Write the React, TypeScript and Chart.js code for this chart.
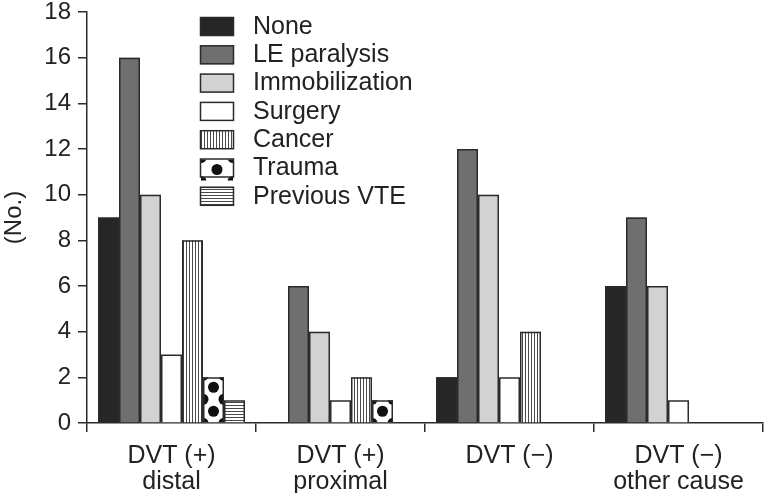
import React, { useEffect, useRef } from "react";
import { Chart, registerables } from "chart.js";

Chart.register(...registerables);

const categories: string[][] = [
  ["DVT (+)", "distal"],
  ["DVT (+)", "proximal"],
  ["DVT (\u2212)"],
  ["DVT (\u2212)", "other cause"],
];
const seriesNames = ["None", "LE paralysis", "Immobilization", "Surgery", "Cancer", "Trauma", "Previous VTE"];
const noneVals = [9, 0, 2, 6];
const leParalysisVals = [16, 6, 12, 9];
const immobilizationVals = [10, 4, 10, 6];
const surgeryVals = [3, 1, 2, 1];
const cancerVals = [8, 2, 4, 0];
const traumaVals = [2, 1, 0, 0];
const previousVteVals = [1, 0, 0, 0];
const yTicks = [0, 2, 4, 6, 8, 10, 12, 14, 16, 18];

const FONT = "'Liberation Sans', Arial, Helvetica, sans-serif";
const EDGE = "#2b2b2b";
const TEXT = "#222222";
const FS = 24;
const FS_BIG = 25;

function makePattern(kind: string): CanvasPattern | string {
  const c = document.createElement("canvas");
  const ctx = c.getContext("2d")!;
  c.width = 3; c.height = 3;
  ctx.fillStyle = "#ffffff"; ctx.fillRect(0, 0, 3, 3);
  ctx.fillStyle = "#4a4a4a";
  if (kind === "vertical") ctx.fillRect(0, 0, 1, 3);
  else ctx.fillRect(0, 0, 3, 1);
  return ctx.createPattern(c, "repeat") || "#fff";
}

function drawDots(ctx: CanvasRenderingContext2D, left: number, right: number, top: number, bottom: number) {
  ctx.save();
  ctx.beginPath();
  ctx.rect(left, top, right - left, bottom - top);
  ctx.clip();
  ctx.fillStyle = "#111111";
  const cx = (left + right) / 2;
  for (let y = bottom - 11; y > top - 12; y -= 24) {
    ctx.beginPath(); ctx.arc(cx, y, 5.5, 0, Math.PI * 2); ctx.fill();
  }
  for (let y = bottom + 1; y > top - 12; y -= 24) {
    ctx.beginPath(); ctx.arc(left, y, 5.5, 0, Math.PI * 2); ctx.fill();
    ctx.beginPath(); ctx.arc(right, y, 5.5, 0, Math.PI * 2); ctx.fill();
  }
  ctx.restore();
}

const TRAUMA_INDEX = 5;

export default function App() {
  const ref = useRef<HTMLCanvasElement | null>(null);
  useEffect(() => {
    const canvas = ref.current!;
    const fills: (string | CanvasPattern)[] = [
      "#262626", "#6f6f6f", "#d2d2d2", "#ffffff",
      makePattern("vertical"), "#ffffff", makePattern("horizontal"),
    ];
    const values = [noneVals, leParalysisVals, immobilizationVals, surgeryVals, cancerVals, traumaVals, previousVteVals];

    const barDecorPlugin = {
      id: "barDecor",
      afterDatasetsDraw(chart: any) {
        const ctx = chart.ctx as CanvasRenderingContext2D;
        const tmeta = chart.getDatasetMeta(TRAUMA_INDEX);
        tmeta.data.forEach((el: any, i: number) => {
          if (!values[TRAUMA_INDEX][i]) return;
          const half = el.width / 2;
          drawDots(ctx, el.x - half, el.x + half, el.y, el.base);
        });
        ctx.save();
        ctx.strokeStyle = EDGE;
        ctx.lineWidth = 1.5;
        chart.data.datasets.forEach((_ds: any, d: number) => {
          const meta = chart.getDatasetMeta(d);
          meta.data.forEach((el: any, i: number) => {
            if (!values[d][i]) return;
            const l = Math.round(el.x - el.width / 2);
            const r = Math.round(el.x + el.width / 2);
            const t = el.y;
            const b = el.base;
            ctx.beginPath();
            ctx.moveTo(l + 0.75, b);
            ctx.lineTo(l + 0.75, t + 0.75);
            ctx.lineTo(r - 0.75, t + 0.75);
            ctx.lineTo(r - 0.75, b);
            ctx.stroke();
          });
        });
        ctx.restore();
      },
    };

    const legendPlugin = {
      id: "customLegend",
      afterDraw(chart: any) {
        const ctx = chart.ctx as CanvasRenderingContext2D;
        ctx.save();
        chart.data.datasets.forEach((ds: any, i: number) => {
          const y = 17 + i * 28.3;
          ctx.fillStyle = ds.backgroundColor;
          ctx.fillRect(200, y, 34, 19);
          if (i === TRAUMA_INDEX) drawDots(ctx, 201, 233, y + 1, y + 22);
          ctx.lineWidth = 1.5;
          ctx.strokeStyle = EDGE;
          ctx.strokeRect(200.5, y + 0.5, 33, 18);
          ctx.fillStyle = TEXT;
          ctx.font = `${FS_BIG}px ${FONT}`;
          ctx.textBaseline = "middle";
          ctx.textAlign = "left";
          ctx.fillText(ds.label, 253, y + 10);
        });
        ctx.restore();
      },
    };

    const chart = new Chart(canvas, {
      type: "bar",
      data: {
        labels: categories,
        datasets: seriesNames.map((name, i) => ({
          label: name,
          data: values[i],
          backgroundColor: fills[i] as any,
          borderWidth: 0,
          inflateAmount: 0,
          barPercentage: 1,
          categoryPercentage: 147 / 169,
        })),
      },
      options: {
        responsive: false,
        animation: false,
        layout: { padding: { top: 12, right: 2, left: 0, bottom: 0 } },
        plugins: { legend: { display: false }, tooltip: { enabled: false } },
        scales: {
          x: {
            afterFit: (axis: any) => {
              axis.height = 70;
              axis.paddingLeft = 0; axis.paddingRight = 0;
            },
            grid: { offset: true, drawOnChartArea: false, drawTicks: true, tickLength: 9, color: EDGE, lineWidth: 1.5 },
            border: { color: EDGE, width: 1.5 },
            ticks: { color: TEXT, font: { family: FONT, size: FS_BIG, lineHeight: 1.04 }, padding: 11, maxRotation: 0, autoSkip: false },
          },
          y: {
            min: 0,
            max: 18,
            afterBuildTicks: (axis: any) => { axis.ticks = yTicks.map((v) => ({ value: v })); },
            afterFit: (axis: any) => {
              axis.width = 87;
              axis.paddingTop = 0; axis.paddingBottom = 0;
            },
            grid: { drawOnChartArea: false, drawTicks: true, tickLength: 9, color: EDGE, lineWidth: 1.5 },
            border: { color: EDGE, width: 1.5 },
            ticks: { color: TEXT, font: { family: FONT, size: FS }, padding: 7 },
            title: { display: true, text: "(No.)", color: TEXT, font: { family: FONT, size: FS }, padding: { top: 0, bottom: 0 } },
          },
        },
      },
      plugins: [barDecorPlugin, legendPlugin],
    });
    return () => chart.destroy();
  }, []);
  return (
    <div style={{ position: "fixed", left: 0, top: 0, width: 765, height: 493, background: "#fff" }}>
      <canvas ref={ref} width={765} height={493} />
    </div>
  );
}
